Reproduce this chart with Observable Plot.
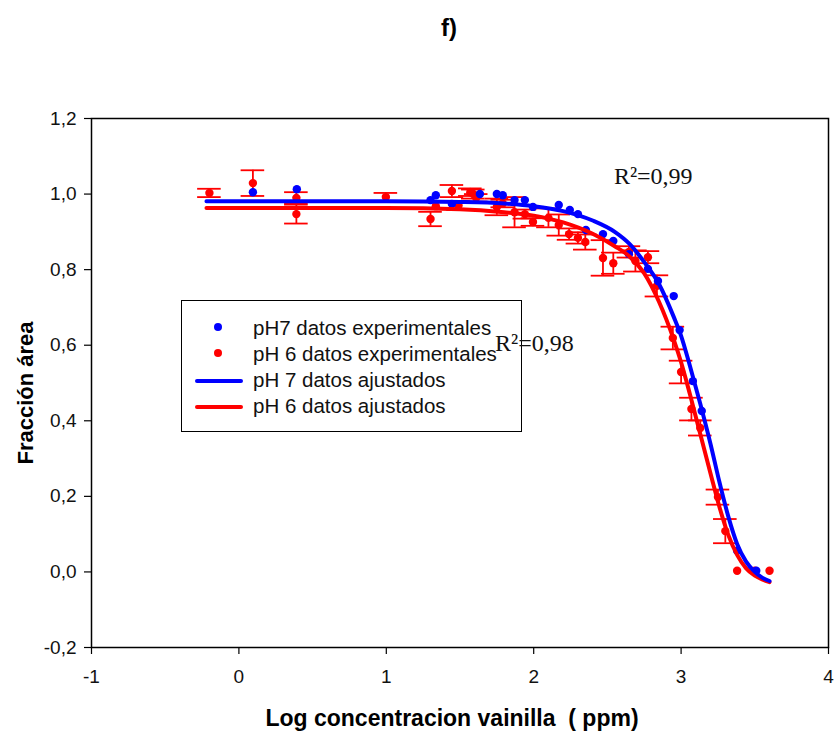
<!DOCTYPE html>
<html><head><meta charset="utf-8">
<script src="https://cdn.jsdelivr.net/npm/d3@7"></script>
<script src="https://cdn.jsdelivr.net/npm/@observablehq/plot@0.6"></script>
<style>
body{margin:0;background:#fff;}
#wrap{position:relative;width:836px;height:742px;overflow:hidden;}
#wrap svg.chart{position:absolute;left:0;top:0;}
.legend{position:absolute;left:181px;top:300px;width:341px;height:132px;border:1.5px solid #000;background:#fff;box-sizing:border-box;font-family:"Liberation Sans",Arial,sans-serif;font-size:20.5px;color:#111;}
.legend .row{position:absolute;left:71px;white-space:nowrap;line-height:1;}
.legend .sym{position:absolute;}
</style></head><body><div id="wrap"></div>
<script>
// pH 7 experimental points
const pH7X = [0.095, 0.393, 1.30, 1.336, 1.445, 1.635, 1.75, 1.79, 1.87, 1.94, 1.995, 2.17, 2.245, 2.30, 2.354, 2.47, 2.54, 2.646, 2.775, 2.843, 2.95, 2.99, 3.08, 3.14, 3.38, 3.51];
const pH7Y = [1.005, 1.013, 0.984, 0.997, 0.974, 1.0, 1.0, 0.997, 0.984, 0.984, 0.966, 0.971, 0.958, 0.947, 0.905, 0.894, 0.876, 0.841, 0.802, 0.770, 0.730, 0.640, 0.505, 0.426, 0.056, 0.003];
// pH 6 experimental points with error (half-length)
const pH6X = [-0.20, 0.095, 0.39, 0.39, 0.997, 1.30, 1.336, 1.445, 1.49, 1.57, 1.59, 1.61, 1.75, 1.79, 1.87, 1.94, 1.995, 2.10, 2.17, 2.24, 2.30, 2.35, 2.47, 2.54, 2.646, 2.69, 2.775, 2.836, 2.944, 3.0, 3.07, 3.13, 3.25, 3.30, 3.38, 3.50, 3.60];
const pH6Y = [1.003, 1.029, 0.990, 0.947, 0.992, 0.934, 0.968, 1.008, 0.970, 1.005, 1.0, 0.99, 0.966, 0.975, 0.952, 0.947, 0.926, 0.937, 0.918, 0.894, 0.884, 0.873, 0.831, 0.817, 0.847, 0.823, 0.833, 0.757, 0.619, 0.529, 0.431, 0.381, 0.198, 0.108, 0.003, 0.003, 0.003];
const pH6Err = [0.011, 0.034, 0.015, 0.025, 0.011, 0.019, 0.0, 0.016, 0.012, 0.01, 0.012, 0.01, 0.022, 0.01, 0.04, 0.012, 0.01, 0.025, 0.028, 0.015, 0.015, 0.02, 0.047, 0.028, 0.015, 0.028, 0.016, 0.028, 0.03, 0.03, 0.03, 0.02, 0.02, 0.032, 0, 0, 0];
// fitted curves
const fit7X = [-0.22, 1.0, 1.5, 1.8, 2.0, 2.2, 2.4, 2.55, 2.65, 2.75, 2.85, 2.95, 3.0, 3.06, 3.13, 3.2, 3.26, 3.32, 3.38, 3.44, 3.5, 3.55, 3.6];
const fit7Y = [0.981, 0.981, 0.979, 0.975, 0.968, 0.955, 0.930, 0.900, 0.868, 0.820, 0.762, 0.675, 0.625, 0.545, 0.445, 0.338, 0.238, 0.147, 0.074, 0.028, 0.000, -0.015, -0.024];
const fit6X = [-0.22, 1.0, 1.5, 1.8, 2.0, 2.2, 2.4, 2.55, 2.65, 2.75, 2.85, 2.95, 3.0, 3.06, 3.13, 3.2, 3.26, 3.32, 3.38, 3.44, 3.5, 3.55, 3.6];
const fit6Y = [0.963, 0.963, 0.960, 0.952, 0.943, 0.925, 0.895, 0.862, 0.835, 0.790, 0.715, 0.615, 0.555, 0.470, 0.365, 0.260, 0.172, 0.098, 0.045, 0.010, -0.010, -0.020, -0.027];
// axes
const xTicks = [-1, 0, 1, 2, 3, 4];
const yTicks = [-0.2, 0, 0.2, 0.4, 0.6, 0.8, 1.0, 1.2];
// texts
const titleText = "f)";
const xLabel = "Log concentracion vainilla\u00a0\u00a0( ppm)";
const yLabel = "Fracción área";
const r2Labels = [{x: 2.544, y: 1.026, t: "R²=0,99"}, {x: 1.737, y: 0.585, t: "R²=0,98"}];
const legendItems = [
  {label: "pH7 datos experimentales", color: "#0000ff", kind: "dot"},
  {label: "pH 6 datos experimentales", color: "#ff0000", kind: "dot"},
  {label: "pH 7 datos ajustados", color: "#0000ff", kind: "line"},
  {label: "pH 6 datos ajustados", color: "#ff0000", kind: "line"}
];

const blue = "#0000ff", red = "#ff0000";
const pts7 = pH7X.map((x, i) => ({x, y: pH7Y[i]}));
const pts6 = pH6X.map((x, i) => ({x, y: pH6Y[i], e: pH6Err[i]}));
const err6 = pts6.filter(d => d.e > 0);
const f7 = fit7X.map((x, i) => ({x, y: fit7Y[i]}));
const f6 = fit6X.map((x, i) => ({x, y: fit6Y[i]}));
const capHalf = 0.08;
const fmtY = d => (Math.abs(d) < 1e-9 ? 0 : d).toFixed(1).replace(".", ",");

const chart = Plot.plot({
  width: 836, height: 742,
  marginLeft: 91, marginRight: 8, marginTop: 118, marginBottom: 95,
  style: {fontFamily: "'Liberation Sans', Arial, sans-serif", fontSize: "19px", background: "transparent", color: "#111", overflow: "visible"},
  x: {domain: [-1, 4]},
  y: {domain: [-0.2, 1.2]},
  marks: [
    Plot.frame({stroke: "#000", strokeWidth: 1.5}),
    Plot.axisX({ticks: xTicks, tickFormat: d => String(d), tickSize: 7, tickPadding: 15, label: null, stroke: "#000", strokeWidth: 1.2, fontSize: 19}),
    Plot.axisY({ticks: yTicks, tickFormat: fmtY, tickSize: 7, tickPadding: 8, label: null, stroke: "#000", strokeWidth: 1.2, fontSize: 19}),
    Plot.ruleX(err6, {x: "x", y1: d => d.y - d.e, y2: d => d.y + d.e, stroke: red, strokeWidth: 1.8}),
    Plot.ruleY(err6, {y: d => d.y - d.e, x1: d => d.x - capHalf, x2: d => d.x + capHalf, stroke: red, strokeWidth: 1.8}),
    Plot.ruleY(err6, {y: d => d.y + d.e, x1: d => d.x - capHalf, x2: d => d.x + capHalf, stroke: red, strokeWidth: 1.8}),
    Plot.dot(pts6, {x: "x", y: "y", r: 4.2, fill: red}),
    Plot.dot(pts7, {x: "x", y: "y", r: 4.2, fill: blue}),
    Plot.line(f6, {x: "x", y: "y", stroke: red, strokeWidth: 4, curve: "monotone-x"}),
    Plot.line(f7, {x: "x", y: "y", stroke: blue, strokeWidth: 4, curve: "monotone-x"}),
    Plot.text([titleText], {frameAnchor: "top", dx: -11, dy: -100, fontSize: 24, fontWeight: "bold", fill: "#000"}),
    Plot.text([xLabel], {frameAnchor: "bottom", dx: -8, dy: 78, fontSize: 23, fontWeight: "bold", fill: "#000"}),
    Plot.text([yLabel], {frameAnchor: "left", textAnchor: "middle", dx: -66, dy: 10, rotate: -90, fontSize: 22, fontWeight: "bold", fill: "#000"})
  ]
});
chart.classList.add("chart");

const wrap = document.getElementById("wrap");
// legend (HTML, under the SVG layer)
const lg = document.createElement("div");
lg.className = "legend";
const rowTops = [17, 43, 69, 95];
legendItems.forEach((it, i) => {
  const row = document.createElement("div");
  row.className = "row";
  row.style.top = rowTops[i] + "px";
  row.textContent = it.label;
  lg.appendChild(row);
  const s = document.createElement("div");
  s.className = "sym";
  if (it.kind === "dot") {
    s.style.cssText = `left:32px;top:${rowTops[i] + 5}px;width:8px;height:8px;border-radius:50%;background:${it.color};`;
  } else {
    s.style.cssText = `left:13px;top:${rowTops[i] + 9}px;width:48px;height:4px;border-radius:2px;background:${it.color};`;
  }
  lg.appendChild(s);
});
wrap.appendChild(lg);
wrap.appendChild(chart);

// R² annotations drawn in the SVG with data coordinates
const ann = Plot.plot({
  width: 836, height: 742,
  marginLeft: 91, marginRight: 8, marginTop: 118, marginBottom: 95,
  style: {background: "transparent", overflow: "visible"},
  x: {domain: [-1, 4], axis: null},
  y: {domain: [-0.2, 1.2], axis: null},
  marks: [
    Plot.text(r2Labels, {x: "x", y: "y", text: "t", textAnchor: "start", lineAnchor: "bottom", fontSize: 24, fontFamily: "'Liberation Serif', 'Times New Roman', serif", fill: "#111"})
  ]
});
ann.classList.add("chart");
wrap.appendChild(ann);
</script>
</body></html>
